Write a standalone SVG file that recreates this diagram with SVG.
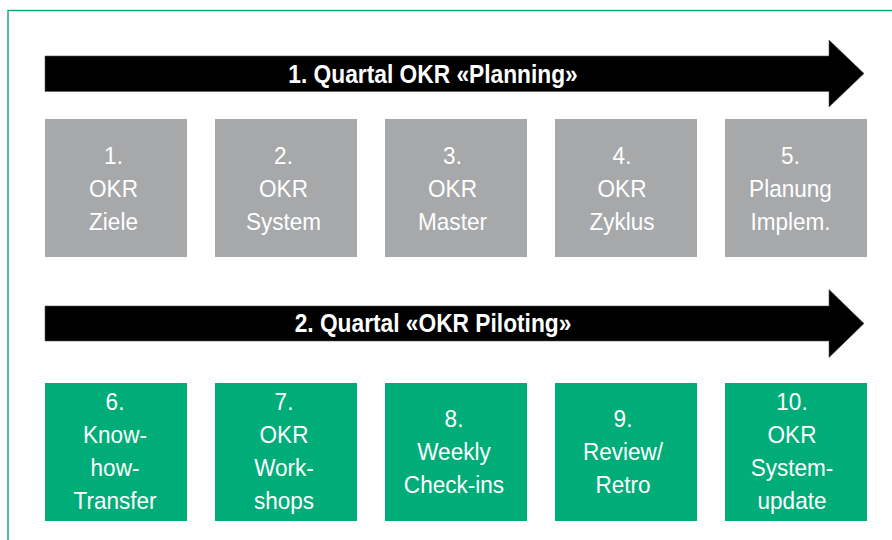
<svg xmlns="http://www.w3.org/2000/svg" width="892" height="540" viewBox="0 0 892 540">
  <style>
    .frame { fill: none; stroke: #00ad6a; stroke-width: 1.4; }
    .arrow { fill: #000; stroke: #555; stroke-width: 0.6; }
    .phase { fill: #fff; font-family: "Liberation Sans", Arial, sans-serif; font-weight: bold; font-size: 25px; text-anchor: middle; }
    .plan rect { fill: #a7a8aa; }
    .pilot rect { fill: #00ad78; }
    .step { fill: #fff; font-family: "Liberation Sans", Arial, sans-serif; font-size: 24px; text-anchor: middle; }
  </style>

  <!-- outer frame, open towards the right and bottom edges -->
  <rect class="frame" x="8" y="10.5" width="920" height="600"/>

  <!-- phase arrows -->
  <g id="connectors">
    <g id="phase1">
      <polygon class="arrow" points="45,56 829,56 829,40 864,73.5 829,107 829,91.5 45,91.5"/>
      <text class="phase" transform="translate(433 82.5) scale(0.91 1)">1. Quartal OKR «Planning»</text>
    </g>
    <g id="phase2">
      <polygon class="arrow" points="45,306 829,306 829,289.5 864,323.5 829,357.5 829,341 45,341"/>
      <text class="phase" transform="translate(433 332) scale(0.91 1)">2. Quartal «OKR Piloting»</text>
    </g>
  </g>

  <!-- quarter 1: planning steps -->
  <g class="plan">
    <g id="step1"><rect x="45" y="119" width="142" height="138"/>
      <text class="step" transform="translate(113.5 0) scale(0.94 1)"><tspan x="0" y="164">1.</tspan><tspan x="0" y="197">OKR</tspan><tspan x="0" y="230">Ziele</tspan></text></g>
    <g id="step2"><rect x="215" y="119" width="142" height="138"/>
      <text class="step" transform="translate(283.5 0) scale(0.94 1)"><tspan x="0" y="164">2.</tspan><tspan x="0" y="197">OKR</tspan><tspan x="0" y="230">System</tspan></text></g>
    <g id="step3"><rect x="385" y="119" width="142" height="138"/>
      <text class="step" transform="translate(452.5 0) scale(0.94 1)"><tspan x="0" y="164">3.</tspan><tspan x="0" y="197">OKR</tspan><tspan x="0" y="230">Master</tspan></text></g>
    <g id="step4"><rect x="555" y="119" width="142" height="138"/>
      <text class="step" transform="translate(622 0) scale(0.94 1)"><tspan x="0" y="164">4.</tspan><tspan x="0" y="197">OKR</tspan><tspan x="0" y="230">Zyklus</tspan></text></g>
    <g id="step5"><rect x="725" y="119" width="142" height="138"/>
      <text class="step" transform="translate(790.5 0) scale(0.94 1)"><tspan x="0" y="164">5.</tspan><tspan x="0" y="197">Planung</tspan><tspan x="0" y="230">Implem.</tspan></text></g>
  </g>

  <!-- quarter 2: piloting steps -->
  <g class="pilot">
    <g id="step6"><rect x="45" y="383" width="142" height="138"/>
      <text class="step" transform="translate(115 0) scale(0.94 1)"><tspan x="0" y="410">6.</tspan><tspan x="0" y="443">Know-</tspan><tspan x="0" y="476">how-</tspan><tspan x="0" y="509">Transfer</tspan></text></g>
    <g id="step7"><rect x="215" y="383" width="142" height="138"/>
      <text class="step" transform="translate(284 0) scale(0.94 1)"><tspan x="0" y="410">7.</tspan><tspan x="0" y="443">OKR</tspan><tspan x="0" y="476">Work-</tspan><tspan x="0" y="509">shops</tspan></text></g>
    <g id="step8"><rect x="385" y="383" width="142" height="138"/>
      <text class="step" transform="translate(454 0) scale(0.94 1)"><tspan x="0" y="427">8.</tspan><tspan x="0" y="460">Weekly</tspan><tspan x="0" y="493">Check-ins</tspan></text></g>
    <g id="step9"><rect x="555" y="383" width="142" height="138"/>
      <text class="step" transform="translate(623 0) scale(0.94 1)"><tspan x="0" y="427">9.</tspan><tspan x="0" y="460">Review/</tspan><tspan x="0" y="493">Retro</tspan></text></g>
    <g id="step10"><rect x="725" y="383" width="142" height="138"/>
      <text class="step" transform="translate(792 0) scale(0.94 1)"><tspan x="0" y="410">10.</tspan><tspan x="0" y="443">OKR</tspan><tspan x="0" y="476">System-</tspan><tspan x="0" y="509">update</tspan></text></g>
  </g>
</svg>
